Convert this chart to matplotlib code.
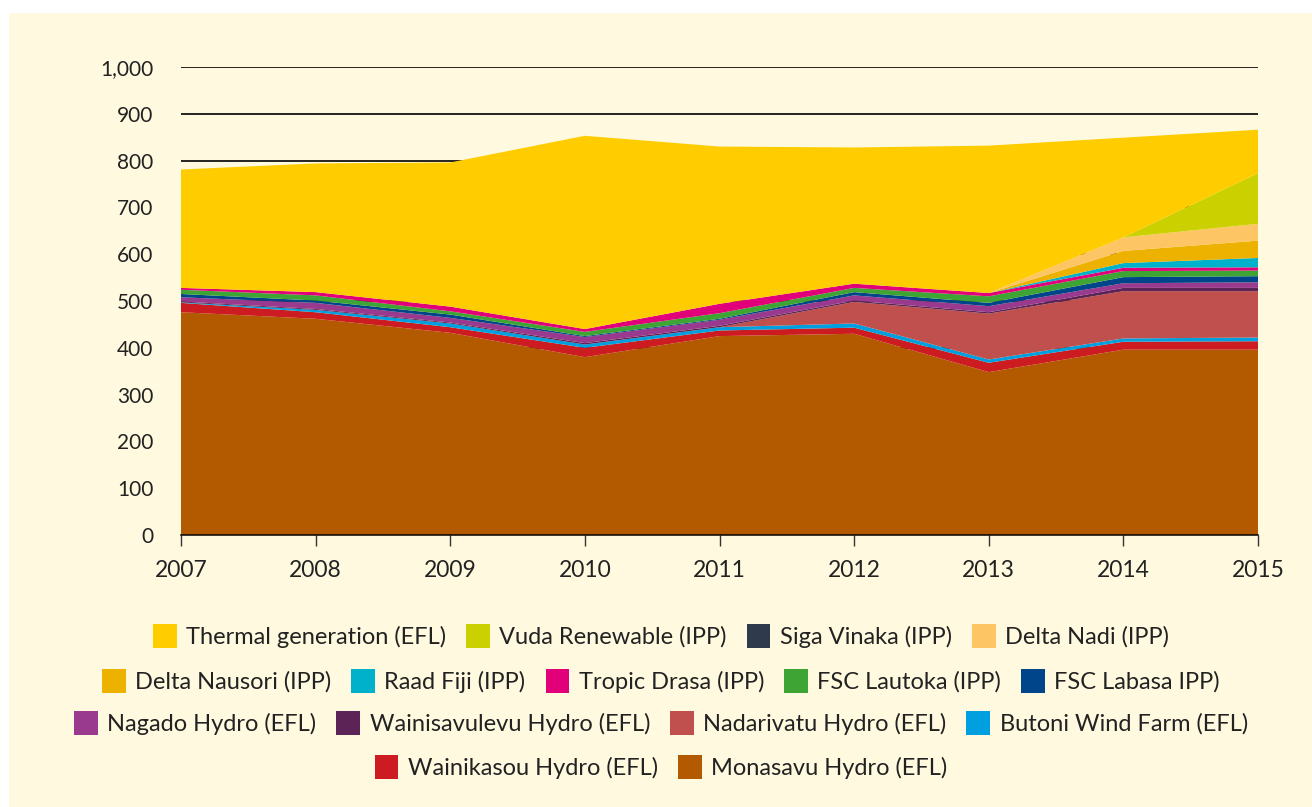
import matplotlib.pyplot as plt
from matplotlib.patches import Patch, Rectangle
from matplotlib.ticker import FuncFormatter

years = [2007, 2008, 2009, 2010, 2011, 2012, 2013, 2014, 2015]

# generation by source (GWh), stacked bottom to top
monasavu = [476, 462, 432, 380, 425, 430, 348, 396, 396]
wainikasou = [20, 14, 12, 20, 12, 13, 20, 17, 18]
butoni = [1, 5, 8, 7, 7, 9, 7, 7, 8]
nadarivatu = [0, 0, 0, 0, 0, 46, 98, 101, 99]
wainisavulevu = [2, 2, 2, 3, 3, 3, 3, 7, 7]
nagado = [9, 13, 10, 13, 13, 11, 13, 10, 12]
fsc_labasa = [7, 5, 7, 2, 2, 7, 7, 13, 13]
fsc_lautoka = [9, 11, 7, 9, 12, 9, 14, 13, 12]
tropic_drasa = [4, 7, 10, 6, 20, 9, 7, 7, 7]
raad_fiji = [0, 0, 0, 0, 0, 0, 0, 10, 20]
delta_nausori = [0, 0, 0, 0, 0, 0, 0, 26, 37]
delta_nadi = [0, 0, 0, 0, 0, 0, 0, 29, 36]
siga_vinaka = [0, 0, 0, 0, 0, 0, 0, 0, 0]
vuda = [0, 0, 0, 0, 0, 0, 0, 0, 108]
thermal = [253, 275, 308, 413, 336, 291, 315, 213, 93]

series = [
    ("Monasavu Hydro (EFL)", monasavu, "#B35900"),
    ("Wainikasou Hydro (EFL)", wainikasou, "#CC1C21"),
    ("Butoni Wind Farm (EFL)", butoni, "#009FE0"),
    ("Nadarivatu Hydro (EFL)", nadarivatu, "#C0504D"),
    ("Wainisavulevu Hydro (EFL)", wainisavulevu, "#5C2356"),
    ("Nagado Hydro (EFL)", nagado, "#9A3A8F"),
    ("FSC Labasa IPP)", fsc_labasa, "#00448A"),
    ("FSC Lautoka (IPP)", fsc_lautoka, "#3EA535"),
    ("Tropic Drasa (IPP)", tropic_drasa, "#E2007A"),
    ("Raad Fiji (IPP)", raad_fiji, "#00B1CC"),
    ("Delta Nausori (IPP)", delta_nausori, "#EDB200"),
    ("Delta Nadi (IPP)", delta_nadi, "#FDC564"),
    ("Siga Vinaka (IPP)", siga_vinaka, "#2F3B4C"),
    ("Vuda Renewable (IPP)", vuda, "#CBD100"),
    ("Thermal generation (EFL)", thermal, "#FFCC00"),
]
colors = {name: c for name, _, c in series}

legend_rows = [
    ["Thermal generation (EFL)", "Vuda Renewable (IPP)", "Siga Vinaka (IPP)", "Delta Nadi (IPP)"],
    ["Delta Nausori (IPP)", "Raad Fiji (IPP)", "Tropic Drasa (IPP)", "FSC Lautoka (IPP)", "FSC Labasa IPP)"],
    ["Nagado Hydro (EFL)", "Wainisavulevu Hydro (EFL)", "Nadarivatu Hydro (EFL)", "Butoni Wind Farm (EFL)"],
    ["Wainikasou Hydro (EFL)", "Monasavu Hydro (EFL)"],
]

bg = "#FFF9DF"
text_color = "#222222"
plt.rcParams["font.family"] = ["Lato", "DejaVu Sans"]

fig = plt.figure(figsize=(13.12, 8.07), dpi=100, facecolor="white")
fig.patches.append(Rectangle((9 / 1312, 0), 1, 1 - 13 / 807, transform=fig.transFigure,
                             facecolor=bg, edgecolor="none", zorder=-10))

ax = fig.add_axes([181 / 1312, 1 - 535 / 807, 1077 / 1312, 468 / 807])
ax.patch.set_visible(False)

ax.stackplot(years, [s[1] for s in series], colors=[s[2] for s in series],
             linewidth=0, zorder=3)

ax.set_xlim(2007, 2015)
ax.set_ylim(0, 1000)
ax.set_xticks(years)
ax.set_yticks(range(0, 1001, 100))
ax.yaxis.set_major_formatter(FuncFormatter(lambda v, _: f"{int(v):,}"))
ax.grid(axis="y", color="black", linewidth=1.2, zorder=1)
ax.set_axisbelow(True)

for side in ["left", "right", "top"]:
    ax.spines[side].set_visible(False)
ax.spines["bottom"].set_color("black")
ax.spines["bottom"].set_linewidth(1.1)
ax.spines["bottom"].set_zorder(5)

ax.tick_params(axis="x", direction="out", length=8, width=1, color="#333333",
               pad=10, labelsize=16.5, labelcolor=text_color)
ax.tick_params(axis="y", length=0, pad=20, labelsize=15, labelcolor=text_color)

# legend is laid out as four centred rows
row_y = [636, 681, 723, 767]
for names, y in zip(legend_rows, row_y):
    handles = [Patch(facecolor=colors[n], edgecolor="none") for n in names]
    leg = fig.legend(handles, names, loc="center", bbox_to_anchor=(661 / 1312, 1 - y / 807),
                     ncol=len(names), frameon=False, fontsize=17, handlelength=1.0,
                     handleheight=1.15, handletextpad=0.4, columnspacing=0.85,
                     borderpad=0, borderaxespad=0)
    for t in leg.get_texts():
        t.set_color(text_color)

fig.savefig("out.png", dpi=100, facecolor=fig.get_facecolor())
